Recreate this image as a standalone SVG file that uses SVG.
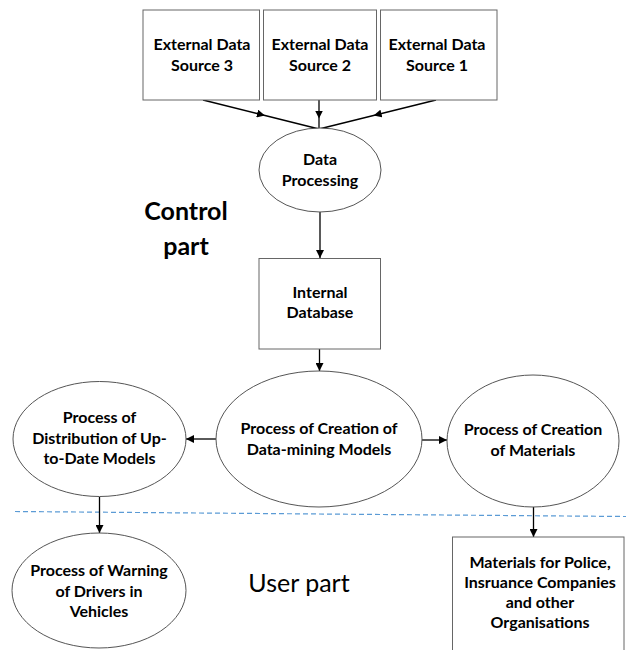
<svg xmlns="http://www.w3.org/2000/svg" width="626" height="650" viewBox="0 0 626 650">
<defs>
<marker id="ah" viewBox="0 0 10 10" refX="10" refY="5" markerWidth="8" markerHeight="8" markerUnits="userSpaceOnUse" orient="auto">
<path d="M0,0 L10,5 L0,10 z" fill="#000"/>
</marker>
<marker id="am" viewBox="0 0 10 10" refX="5" refY="5" markerWidth="8" markerHeight="8" markerUnits="userSpaceOnUse" orient="auto">
<path d="M0,0 L10,5 L0,10 z" fill="#000"/>
</marker>
<style>
.box{fill:#fff;stroke:#666;stroke-width:1}
.ell{fill:#fff;stroke:#555;stroke-width:1}
.t{font-family:Lato,"Liberation Sans",sans-serif;font-weight:bold;font-size:16px;fill:#000;text-anchor:middle}
.big{font-family:Lato,"Liberation Sans",sans-serif;font-size:25px;fill:#000;text-anchor:middle}
.c{stroke:#000;stroke-width:1.3;fill:none}
</style>
</defs>
<rect width="626" height="650" fill="#fff"/>
<line x1="15" y1="511.5" x2="626" y2="516.5" stroke="#5b9bd5" stroke-width="1.2" stroke-dasharray="5,3"/>
<g id="connectors">
<polyline class="c" points="203,100 261,114.5 319,129" marker-mid="url(#am)"/>
<polyline class="c" points="436,100 377.5,114.5 319,129" marker-mid="url(#am)"/>
<polyline class="c" points="319,100 319,114.5 319,129" marker-mid="url(#am)"/>
<line class="c" x1="320" y1="211" x2="320" y2="258" marker-end="url(#ah)"/>
<line class="c" x1="319.5" y1="349" x2="319.5" y2="371" marker-end="url(#ah)"/>
<line class="c" x1="216" y1="439" x2="186" y2="439" marker-end="url(#ah)"/>
<line class="c" x1="422" y1="440" x2="447" y2="440" marker-end="url(#ah)"/>
<line class="c" x1="99.5" y1="497" x2="99.5" y2="533" marker-end="url(#ah)"/>
<line class="c" x1="533.5" y1="507" x2="533.5" y2="537" marker-end="url(#ah)"/>
</g>
<g id="src3"><rect class="box" x="143" y="10" width="116.5" height="90"/><text class="t" x="202" y="50">External Data</text><text class="t" x="202" y="71">Source 3</text></g>
<g id="src2"><rect class="box" x="263.5" y="10" width="113" height="90"/><text class="t" x="320" y="50">External Data</text><text class="t" x="320" y="71">Source 2</text></g>
<g id="src1"><rect class="box" x="380.5" y="10" width="116.5" height="90"/><text class="t" x="437" y="50">External Data</text><text class="t" x="437" y="71">Source 1</text></g>
<g id="dataproc"><ellipse class="ell" cx="320" cy="170" rx="61" ry="42"/><text class="t" x="320" y="165">Data</text><text class="t" x="320" y="186">Processing</text></g>
<g id="intdb"><rect class="box" x="259" y="258.5" width="121.5" height="90.5"/><text class="t" x="320" y="298">Internal</text><text class="t" x="320" y="318">Database</text></g>
<g id="creation"><ellipse class="ell" cx="319" cy="439" rx="103" ry="68"/><text class="t" x="319" y="434">Process of Creation of</text><text class="t" x="319" y="455">Data-mining Models</text></g>
<g id="distrib"><ellipse class="ell" cx="99.5" cy="439" rx="86.5" ry="57.5"/><text class="t" x="99.5" y="423">Process of</text><text class="t" x="99.5" y="443.5">Distribution of Up-</text><text class="t" x="99.5" y="464">to-Date Models</text></g>
<g id="materials"><ellipse class="ell" cx="533" cy="441" rx="86" ry="66"/><text class="t" x="533" y="435">Process of Creation</text><text class="t" x="533" y="455.5">of Materials</text></g>
<g id="warning"><ellipse class="ell" cx="99" cy="590.5" rx="87" ry="57.5"/><text class="t" x="99" y="576">Process of Warning</text><text class="t" x="99" y="597">of Drivers in</text><text class="t" x="99" y="617">Vehicles</text></g>
<g id="matbox"><rect class="box" x="452.5" y="537" width="171.5" height="120"/><text class="t" x="540" y="568">Materials for Police,</text><text class="t" x="540" y="588">Insruance Companies</text><text class="t" x="540" y="608">and other</text><text class="t" x="540" y="628">Organisations</text></g>
<g id="control-label"><text class="big" x="186" y="220" font-weight="bold">Control</text><text class="big" x="186" y="255" font-weight="bold">part</text></g>
<g id="user-label"><text class="big" x="299" y="592" font-size="29">User part</text></g>
</svg>
